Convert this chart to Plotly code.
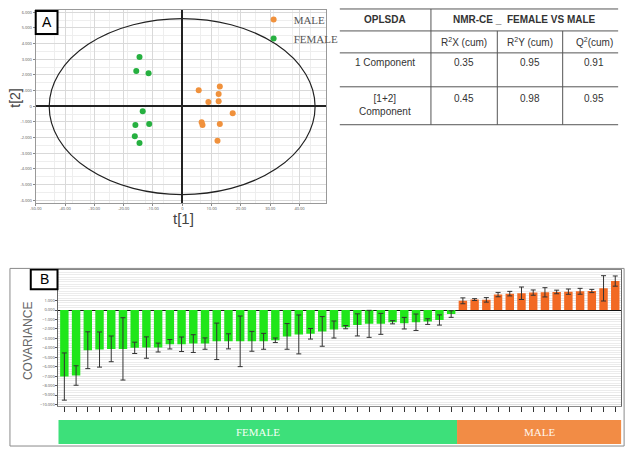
import plotly.graph_objects as go

W, H = 634, 456
def px(x): return x / W
def py(y): return 1 - y / H

# ---------------- Panel A data (OPLS-DA scores) ----------------
female_t1 = [-14.6, -15.7, -11.5, -13.5, -16.0, -11.3, -16.2, -14.6]
female_t2 = [3.15, 2.26, 2.11, -0.32, -1.19, -1.13, -1.91, -2.34]
male_t1 = [5.6, 12.8, 12.4, 8.9, 12.4, 17.2, 6.6, 6.9, 12.8, 12.0]
male_t2 = [1.02, 1.26, 0.79, 0.28, 0.32, -0.45, -1.02, -1.19, -1.13, -2.21]
ellipse_t1 = [-45.4, 45.3]
ellipse_t2 = [-5.64, 5.6]
t1_ticks = [-50, -40, -30, -20, -10, 0, 10, 20, 30, 40, 50]
t1_labels = ["-50.00", "-40.00", "-30.00", "-20.00", "-10.00", "0", "10.00", "20.00", "30.00", "40.00", "50.00"]
t2_ticks = [-6, -5, -4, -3, -2, -1, 0, 1, 2, 3, 4, 5, 6]
t2_labels = ["-6.000", "-5.000", "-4.000", "-3.000", "-2.000", "-1.000", "0",
             "1.000", "2.000", "3.000", "4.000", "5.000", "6.000"]

# ---------------- Table data ----------------
table_header = ["OPLSDA", "NMR-CE _  FEMALE VS MALE"]
table_cols = ["R<sup>2</sup>X (cum)", "R<sup>2</sup>Y (cum)", "Q<sup>2</sup>(cum)"]
table_rows = ["1 Component", "[1+2]<br>Component"]
table_vals = [[0.35, 0.95, 0.91], [0.45, 0.98, 0.95]]

# ---------------- Panel B data (covariance) ----------------
female_cov = [-7.04, -6.93, -4.25, -4.18, -4.11, -4.11, -4.0, -3.97, -3.97, -3.62,
              -3.62, -3.55, -3.55, -3.31, -3.31, -3.31, -3.31, -3.31, -3.2, -2.79,
              -2.58, -2.51, -2.26, -2.06, -1.81, -1.57, -1.46, -1.46, -1.29, -1.39,
              -1.29, -1.22, -1.05, -0.42]
female_err = [2.5, 1.03, 1.95, 1.86, 1.36, 3.3, 0.6, 1.13, 0.47, 0.5,
              0.77, 0.94, 0.6, 1.93, 0.8, 2.68, 1.05, 0.84, 0.24, 1.36,
              2.06, 0.56, 1.57, 0.9, 0.17, 1.17, 1.43, 1.11, 0.17, 0.61,
              0.87, 0.3, 0.54, 0.35]
male_cov = [0.98, 1.11, 1.08, 1.64, 1.74, 1.78, 1.85, 1.88, 1.92, 1.95, 1.99, 2.02, 2.3, 3.07]
male_err = [0.31, 0.1, 0.24, 0.23, 0.24, 0.66, 0.28, 0.49, 0.19, 0.28, 0.31, 0.17, 1.34, 0.54]
cov_ticks = [-10, -9, -8, -7, -6, -5, -4, -3, -2, -1, 0, 1]
cov_minor = [v / 4 for v in range(-40, 17)]

nf, nm = len(female_cov), len(male_cov)
female_x = list(range(nf))
male_x = list(range(nf, nf + nm))

fig = go.Figure()

fig.add_trace(go.Scatter(x=male_t1, y=male_t2, mode="markers", name="MALE",
                         marker=dict(color="#f0913c", size=6), xaxis="x", yaxis="y"))
fig.add_trace(go.Scatter(x=female_t1, y=female_t2, mode="markers", name="FEMALE",
                         marker=dict(color="#26b040", size=6), xaxis="x", yaxis="y"))

fig.add_trace(go.Bar(x=female_x, y=female_cov, width=0.72, marker=dict(color="#20e61a", line=dict(width=0)),
                     error_y=dict(type="data", array=female_err, color="#333", thickness=1, width=2.5),
                     xaxis="x2", yaxis="y2", showlegend=False))
fig.add_trace(go.Bar(x=male_x, y=male_cov, width=0.72, marker=dict(color="#f26a24", line=dict(width=0)),
                     error_y=dict(type="data", array=male_err, color="#333", thickness=1, width=2.5),
                     xaxis="x2", yaxis="y2", showlegend=False))

shapes = []
annotations = []

def note(text, x, y, size, color="#333", family="Arial", angle=0, xref="paper", yanchor="middle"):
    annotations.append(dict(text=text, x=x, y=y, xref=xref, yref="paper", showarrow=False,
                            xanchor="center", yanchor=yanchor, textangle=angle,
                            font=dict(size=size, color=color, family=family)))

# Hotelling ellipse
shapes.append(dict(type="circle", xref="x", yref="y", x0=ellipse_t1[0], x1=ellipse_t1[1],
                   y0=ellipse_t2[0], y1=ellipse_t2[1], line=dict(color="#222", width=1.2)))

# Panel labels
for lab, (x0, y0, x1, y1) in [("A", (30, 11, 52, 34)), ("B", (25, 270, 52, 290))]:
    shapes.append(dict(type="rect", xref="paper", yref="paper", x0=px(x0), x1=px(x1),
                       y0=py(y1), y1=py(y0), line=dict(color="black", width=2), fillcolor="white"))
    note(lab, px((x0 + x1) / 2), py((y0 + y1) / 2), 14, "black")

note("t[2]", px(9), py(98), 14, "#444", angle=-90)
note("t[1]", px(179), py(219), 15, "#444")

# Table
tline = dict(color="#555", width=1)
for yy in [9, 31, 53, 87, 125]:
    shapes.append(dict(type="line", xref="paper", yref="paper", x0=px(337), x1=px(618),
                       y0=py(yy), y1=py(yy), line=tline))
shapes.append(dict(type="line", xref="paper", yref="paper", x0=px(429), x1=px(429), y0=py(9), y1=py(125), line=tline))
for xx in [496, 562]:
    shapes.append(dict(type="line", xref="paper", yref="paper", x0=px(xx), x1=px(xx), y0=py(31), y1=py(125), line=tline))

tfam = "Liberation Sans, Arial"
note("<b>" + table_header[0] + "</b>", px(383), py(20), 10, "#333", tfam)
note("<b>" + table_header[1] + "</b>", px(523), py(20), 10, "#333", tfam)
col_x = [462, 529, 594]
for cx, c in zip(col_x, table_cols):
    note(c, px(cx), py(42), 10, "#333", tfam)
row_y = [62, 98]
for ry, rlab, vals in zip(row_y, table_rows, table_vals):
    note(rlab, px(383), py(ry - 7), 10, "#333", tfam, yanchor="top")
    for cx, v in zip(col_x, vals):
        note(f"{v:.2f}", px(cx), py(ry - 7), 10, "#333", tfam, yanchor="top")

# Panel B frame
shapes.append(dict(type="rect", xref="paper", yref="paper", x0=px(4), x1=px(624), y0=py(447), y1=py(269),
                   line=dict(color="#8a8a8a", width=1)))
# Group bands
shapes.append(dict(type="rect", xref="x2", yref="paper", x0=-0.67, x1=nf - 0.5, y0=py(445), y1=py(421),
                   line=dict(width=0), fillcolor="#3de07a", layer="below"))
shapes.append(dict(type="rect", xref="x2", yref="paper", x0=nf - 0.5, x1=nf + nm - 0.25, y0=py(445), y1=py(421),
                   line=dict(width=0), fillcolor="#f28c45", layer="below"))
note("FEMALE", (nf - 1) / 2, py(433), 11, "#f4fff4", "Liberation Serif", xref="x2")
note("MALE", nf + (nm - 1) / 2, py(433), 11, "#fff6ee", "Liberation Serif", xref="x2")
note("COVARIANCE", px(22), py(342), 12, "#666", angle=-90)

fig.update_layout(
    width=W, height=H, margin=dict(l=0, r=0, t=0, b=0),
    paper_bgcolor="white", plot_bgcolor="white",
    barmode="overlay",
    shapes=shapes, annotations=annotations,
    legend=dict(x=px(250), y=py(5), xanchor="left", yanchor="top", bgcolor="rgba(0,0,0,0)",
                font=dict(size=11, color="#555", family="Liberation Serif"),
                itemwidth=30, tracegroupgap=0),
    xaxis=dict(domain=[px(30), px(323)], range=[-50, 49], tickvals=t1_ticks, ticktext=t1_labels,
               tickfont=dict(size=4, color="#555"), ticks="outside", ticklen=2, tickcolor="#888",
               showgrid=True, gridcolor="#d9d9d9", gridwidth=1,
               minor=dict(tickvals=[v / 4 for v in range(-200, 200, 25)], showgrid=True, gridcolor="#eeeeee"),
               zeroline=True, zerolinecolor="#222", zerolinewidth=1.5,
               showline=True, mirror=True, linecolor="#999", anchor="y"),
    yaxis=dict(domain=[py(203), py(10)], range=[-6.15, 6.15], tickvals=t2_ticks, ticktext=t2_labels,
               tickfont=dict(size=4, color="#555"), ticks="outside", ticklen=2, tickcolor="#888",
               showgrid=True, gridcolor="#d9d9d9",
               minor=dict(tickvals=[v / 2 for v in range(-13, 14)], showgrid=True, gridcolor="#eeeeee"),
               zeroline=True, zerolinecolor="#222", zerolinewidth=1.5,
               showline=True, mirror=True, linecolor="#999", anchor="x"),
    xaxis2=dict(domain=[px(53), px(621)], range=[-0.5, nf + nm - 0.5], tickvals=female_x + male_x,
                showticklabels=False, ticks="outside", ticklen=5, tickcolor="#333",
                showgrid=False, zeroline=False, showline=True, mirror=True, linecolor="#888", anchor="y2"),
    yaxis2=dict(domain=[py(407), py(271)], range=[-10.17, 4.2], tickvals=cov_ticks, tickformat=".3f",
                tickfont=dict(size=4, color="#555"), ticks="outside", ticklen=2, tickcolor="#555",
                showgrid=True, gridcolor="#e0e0e0",
                minor=dict(tickvals=cov_minor, showgrid=True, gridcolor="#ececec"),
                zeroline=True, zerolinecolor="#111", zerolinewidth=1.2,
                showline=True, mirror=True, linecolor="#666", anchor="x2"),
)

fig.write_html("out.html", config={"displayModeBar": False},
               post_script="document.body.style.margin='0px';")
